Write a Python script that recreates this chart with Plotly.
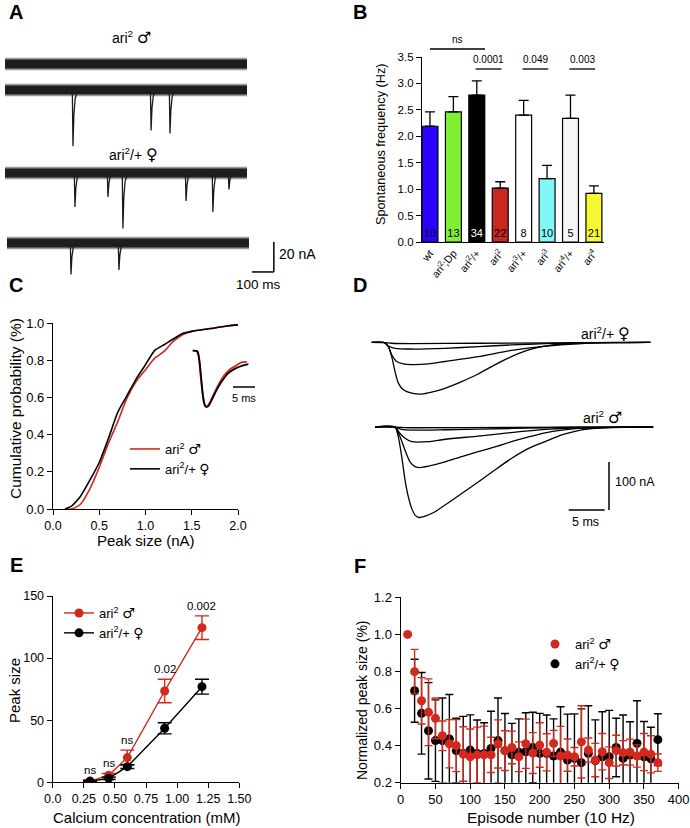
import plotly.graph_objects as go

W, H = 690, 828
FONT = "Arial, 'Liberation Sans', 'DejaVu Sans', sans-serif"
RED = "#d2281e"


def sym(ch, size):
    return '<span style="font-family:DejaVu Sans;font-size:%spx">%s</span>' % (size, ch)


def male(size=14):
    return "ari<sup>2</sup> " + sym("♂", size)


def female(size=14):
    return "ari<sup>2</sup>/+ " + sym("♀", size)


def fx(p):
    return p / W


def fy(p):
    return 1 - p / H


# ---------------- Panel A : spontaneous recordings ----------------
A_START = [0, 0, 0, 9]
A_END = [1100, 1100, 1100, 1109]
A_BASE = [-22.7, -40.0, -95.3, -142.0]
A_EV_T = [[], [309, 664, 750], [318, 468, 536, 823, 945, 1018], [300, 518]]
A_EV_AMP = [[], [37.5, 27, 29], [22.7, 16, 37, 18.7, 26, 11], [21, 18]]
A_SCALE_NA = 20
A_SCALE_MS = 100

# ---------------- Panel B : spontaneous frequency ----------------
B_CATS = ["wt", "ari<sup>2</sup>;Dp", "ari<sup>2</sup>/+", "ari<sup>2</sup>",
          "ari<sup>3</sup>/+", "ari<sup>3</sup>", "ari<sup>4</sup>/+", "ari<sup>4</sup>"]
B_MEAN = [2.19, 2.46, 2.78, 1.02, 2.40, 1.20, 2.34, 0.92]
B_SEM = [0.27, 0.29, 0.27, 0.12, 0.28, 0.25, 0.44, 0.14]
B_N = [10, 13, 34, 22, 8, 10, 5, 21]
B_COLORS = ["#2a00ff", "#80f032", "#000000", "#c8281e", "#ffffff", "#80f8f8", "#f6f6f6", "#f8f832"]
B_NCOLORS = ["black", "black", "white", "black", "black", "black", "black", "black"]
B_SIG_PAIRS = [(0, 2.35), (1.95, 3.05), (3.95, 5.05), (5.95, 7.05)]
B_SIG_TEXT = ["ns", "0.0001", "0.049", "0.003"]

# ---------------- Panel C : cumulative probability ----------------
C_X = [0.13, 0.2, 0.25, 0.3, 0.4, 0.5, 0.6, 0.7, 0.8, 0.9, 1.0, 1.1, 1.2, 1.3, 1.4, 1.5, 1.7, 1.9, 2.0]
C_RED = [0.0, 0.0, 0.01, 0.027, 0.11, 0.224, 0.354, 0.47, 0.596, 0.686, 0.749, 0.811, 0.847, 0.901, 0.937, 0.955, 0.97, 0.985, 0.99]
C_BLACK = [0.0, 0.015, 0.04, 0.07, 0.156, 0.25, 0.38, 0.52, 0.61, 0.70, 0.776, 0.853, 0.883, 0.914, 0.943, 0.955, 0.97, 0.985, 0.99]
C_INSET_T_RED = [0, 0.91, 1.36, 1.67, 2.05, 2.42, 2.80, 3.18, 3.79, 4.70, 5.83, 6.97, 8.48, 10.0, 11.1, 12.3]
C_INSET_RED = [0, -0.01, -0.11, -0.35, -0.64, -0.88, -0.99, -1.0, -0.94, -0.79, -0.61, -0.46, -0.33, -0.26, -0.21, -0.20]
C_INSET_T_BLACK = [0, 1.06, 1.52, 1.89, 2.27, 2.65, 3.03, 3.56, 4.32, 5.45, 6.59, 8.11, 9.62, 11.14, 12.65]
C_INSET_BLACK = [0, -0.01, -0.17, -0.46, -0.76, -0.94, -1.0, -0.99, -0.88, -0.70, -0.55, -0.40, -0.32, -0.27, -0.24]
C_SCALE_MS = 5

# ---------------- Panel D : evoked currents ----------------
D_TOP_T = [
    [0, 1.76, 2.31, 2.78, 3.24, 3.70, 4.40, 5.56, 6.94, 8.33, 10.19, 12.5, 14.8, 17.1, 19.4, 21.8, 24.1, 26.4, 28.7, 31.0, 38.7],
    [0, 1.76, 2.31, 2.78, 3.47, 4.40, 5.56, 7.87, 10.19, 14.8, 19.4, 24.1, 28.7, 33.3, 38.7],
    [0, 1.76, 2.31, 3.24, 5.56, 10.19, 14.8, 19.4, 24.1, 28.7, 38.7],
    [0, 1.76, 2.78, 5.56, 14.8, 38.7],
]
D_TOP_I = [
    [0, -0.7, -9, -30, -61, -85, -99, -106, -108, -104, -96, -82, -66, -47, -30, -16, -8, -3.5, -1.4, -0.7, 0],
    [0, -0.7, -9, -26, -40, -45, -46.5, -45, -40, -30, -17, -8, -3, -0.7, 0],
    [0, -0.7, -7.6, -12.5, -14, -12.5, -9, -5.5, -2.8, -0.7, 0],
    [0, -0.7, -2, -2.8, -2, 0],
]
D_BOT_T = [
    [0.46, 3.24, 3.70, 4.17, 4.63, 5.09, 5.56, 6.02, 6.57, 7.41, 8.80, 10.19, 12.5, 14.8, 17.1, 19.4, 21.8, 24.1, 26.4, 28.7, 31.0, 33.3, 39.1],
    [0.46, 3.24, 3.94, 4.63, 5.32, 6.02, 6.71, 7.87, 10.19, 12.5, 14.8, 17.1, 19.4, 21.8, 24.1, 26.4, 28.7, 39.1],
    [0.46, 3.24, 3.94, 4.63, 5.56, 7.87, 10.19, 14.8, 19.4, 24.1, 28.7, 39.1],
    [0.46, 3.24, 4.17, 5.56, 10.19, 19.4, 28.7, 39.1],
    [0.46, 3.24, 5.56, 19.4, 39.1],
]
D_BOT_I = [
    [0, -0.7, -21, -62, -111, -146, -170, -184, -189, -186, -177, -163, -139, -115, -90, -66, -45, -31, -17, -8, -3.5, -1.4, 0],
    [0, -0.7, -21, -49, -73, -83, -85, -82, -73, -62, -52, -42, -31, -21, -12.5, -7, -3.5, 0],
    [0, -0.7, -14, -24, -31, -31, -26, -19.4, -12, -5.6, -2, 0],
    [0, -0.7, -5.6, -7, -6.2, -3.5, -0.7, 0],
    [0, -0.7, -2, -1.4, 0],
]
D_GROUP_OFFSET = -176
D_SCALE_NA = 100
D_SCALE_MS = 5

# ---------------- Panel E : calcium dependence ----------------
E_CA = [0.3, 0.45, 0.6, 0.9, 1.2]
E_RED = [1.0, 5.6, 19.9, 73.5, 124.5]
E_RED_SEM = [1.0, 1.5, 6.0, 9.5, 9.5]
E_BLACK = [0.8, 3.2, 12.6, 43.5, 77.0]
E_BLACK_SEM = [0.5, 1.0, 1.5, 4.5, 6.0]
E_SIG = ["ns", "ns", "ns", "0.02", "0.002"]
E_XTICKS = [0, 0.25, 0.5, 0.75, 1.0, 1.25, 1.5]
E_XTICKTEXT = ["0.0", "0.25", "0.50", "0.75", "1.00", "1.25", "1.50"]

# ---------------- Panel F : 10 Hz train ----------------
F_EP_RED = list(range(10, 380, 10))
F_RED = [1.0, 0.799, 0.642, 0.58, 0.547, 0.453, 0.41, 0.40, 0.355, 0.34, 0.35, 0.35, 0.35, 0.409, 0.373,
         0.39, 0.34, 0.41, 0.36, 0.403, 0.364, 0.412, 0.344, 0.349, 0.34, 0.42, 0.376, 0.322, 0.367,
         0.308, 0.373, 0.362, 0.365, 0.344, 0.365, 0.353, 0.308]
F_RED_SEM = [0, 0.12, 0.125, 0.18, 0.11, 0.08, 0.13, 0.14, 0.147, 0.15, 0.15, 0.155, 0.095, 0.13, 0.107,
             0.088, 0.08, 0.133, 0.11, 0.12, 0.1, 0.07, 0.16, 0.087, 0.05, 0.195, 0.065, 0.09, 0.098,
             0.085, 0.083, 0.065, 0.07, 0.06, 0.1, 0.1, 0.047]
F_EP_BLACK = list(range(20, 380, 10))
F_BLACK = [0.696, 0.574, 0.48, 0.427, 0.427, 0.436, 0.373, 0.358, 0.376, 0.358, 0.358, 0.385, 0.427, 0.373,
           0.35, 0.364, 0.367, 0.39, 0.358, 0.358, 0.344, 0.364, 0.322, 0.331, 0.308, 0.358, 0.319, 0.34,
           0.34, 0.39, 0.331, 0.349, 0.412, 0.34, 0.329, 0.432]
F_BLACK_SEM = [0.17, 0.22, 0.26, 0.22, 0.23, 0.24, 0.175, 0.2, 0.19, 0.18, 0.165, 0.2, 0.23, 0.2, 0.17, 0.18,
               0.21, 0.19, 0.216, 0.207, 0.2, 0.246, 0.248, 0.24, 0.29, 0.257, 0.22, 0.243, 0.25, 0.158,
               0.234, 0.18, 0.23, 0.19, 0.17, 0.14]

# ================================================================
fig = go.Figure()

# ---- A traces ----
NOISE_IN = 3.0
NOISE_OUT = 4.2
EV_DT = [-3, 0, 4, 10, 22]
EV_FRAC = [0, 1, 0.45, 0.15, 0]
for s, e, b, evt, eva in zip(A_START, A_END, A_BASE, A_EV_T, A_EV_AMP):
    for n, col in ((NOISE_OUT, "#9a9a9a"), (NOISE_IN, "#1e1e1e")):
        fig.add_trace(go.Scatter(x=[s, e, e, s, s], y=[b + n, b + n, b - n, b - n, b + n],
                                 fill="toself", fillcolor=col, mode="lines", line=dict(width=0),
                                 xaxis="x", yaxis="y", showlegend=False, hoverinfo="skip"))
    xs, ys = [], []
    for t, a in zip(evt, eva):
        xs += [t + d for d in EV_DT] + [None]
        ys += [b - a * f for f in EV_FRAC] + [None]
    if xs:
        fig.add_trace(go.Scatter(x=xs, y=ys, mode="lines", line=dict(color="#1a1a1a", width=1.3),
                                 xaxis="x", yaxis="y", showlegend=False, hoverinfo="skip"))

# ---- B bars ----
fig.add_trace(go.Bar(x=B_CATS, y=B_MEAN, width=0.68, marker=dict(color=B_COLORS, line=dict(color="black", width=1.2)),
                     error_y=dict(type="data", array=B_SEM, arrayminus=[0] * len(B_SEM), symmetric=False,
                                  color="black", thickness=1.3, width=5),
                     text=[str(n) for n in B_N], textposition="inside", insidetextanchor="start",
                     constraintext="none", textangle=0,
                     insidetextfont=dict(family=FONT, size=11, color=B_NCOLORS),
                     xaxis="x2", yaxis="y2", showlegend=False, hoverinfo="skip"))

# ---- C cumulative ----
fig.add_trace(go.Scatter(x=C_X, y=C_RED, mode="lines", line=dict(color=RED, width=1.6, shape="spline", smoothing=0.6),
                         name=male(), legend="legend", xaxis="x3", yaxis="y3"))
fig.add_trace(go.Scatter(x=C_X, y=C_BLACK, mode="lines", line=dict(color="black", width=1.6, shape="spline", smoothing=0.6),
                         name=female(), legend="legend", xaxis="x3", yaxis="y3"))
fig.add_trace(go.Scatter(x=C_INSET_T_RED, y=C_INSET_RED, mode="lines",
                         line=dict(color=RED, width=1.8, shape="spline", smoothing=0.8),
                         xaxis="x4", yaxis="y4", showlegend=False, hoverinfo="skip"))
fig.add_trace(go.Scatter(x=C_INSET_T_BLACK, y=C_INSET_BLACK, mode="lines",
                         line=dict(color="black", width=1.8, shape="spline", smoothing=0.8),
                         xaxis="x4", yaxis="y4", showlegend=False, hoverinfo="skip"))

# ---- D evoked ----
for t, i in zip(D_TOP_T, D_TOP_I):
    fig.add_trace(go.Scatter(x=t, y=i, mode="lines", line=dict(color="black", width=1.3, shape="spline", smoothing=0.6),
                             xaxis="x5", yaxis="y5", showlegend=False, hoverinfo="skip"))
for t, i in zip(D_BOT_T, D_BOT_I):
    fig.add_trace(go.Scatter(x=t, y=[v + D_GROUP_OFFSET for v in i], mode="lines",
                             line=dict(color="black", width=1.3, shape="spline", smoothing=0.6),
                             xaxis="x5", yaxis="y5", showlegend=False, hoverinfo="skip"))

# ---- E ----
fig.add_trace(go.Scatter(x=E_CA, y=E_RED, mode="lines+markers", name=male(), legend="legend2",
                         line=dict(color=RED, width=1.4), marker=dict(color=RED, size=9),
                         error_y=dict(type="data", array=E_RED_SEM, color=RED, thickness=1.4, width=7),
                         xaxis="x6", yaxis="y6"))
fig.add_trace(go.Scatter(x=E_CA, y=E_BLACK, mode="lines+markers", name=female(), legend="legend2",
                         line=dict(color="black", width=1.4), marker=dict(color="black", size=9),
                         error_y=dict(type="data", array=E_BLACK_SEM, color="black", thickness=1.4, width=7),
                         xaxis="x6", yaxis="y6"))

# ---- F ----
fig.add_trace(go.Scatter(x=F_EP_BLACK, y=F_BLACK, mode="markers", name=female(), legend="legend3", legendrank=2,
                         marker=dict(color="black", size=9),
                         error_y=dict(type="data", array=F_BLACK_SEM, color="black", thickness=1.4, width=4),
                         xaxis="x7", yaxis="y7"))
fig.add_trace(go.Scatter(x=F_EP_RED, y=F_RED, mode="markers", name=male(), legend="legend3", legendrank=1,
                         marker=dict(color=RED, size=9),
                         error_y=dict(type="data", array=F_RED_SEM, color=RED, thickness=1.4, width=4),
                         xaxis="x7", yaxis="y7"))


# ================================================================
def ax(dom, rng, anchor, **kw):
    d = dict(domain=dom, range=rng, anchor=anchor, showline=True, linecolor="black", linewidth=1.3,
             ticks="outside", ticklen=5, tickwidth=1.3, tickcolor="black", showgrid=False, zeroline=False,
             automargin=False, tickfont=dict(family=FONT, size=13, color="black"), fixedrange=True)
    d.update(kw)
    return d


def hidden(dom, rng, anchor):
    return dict(domain=dom, range=rng, anchor=anchor, visible=False, fixedrange=True, automargin=False)


def xdom(a, b):
    return [fx(a), fx(b)]


def ydom(top, bottom):
    return [fy(bottom), fy(top)]


LEG = dict(xanchor="left", yanchor="top", bgcolor="rgba(0,0,0,0)",
           font=dict(family=FONT, size=13, color="black"), itemwidth=30, tracegroupgap=0)

layout = dict(
    template="none",
    width=W, height=H, margin=dict(l=0, r=0, t=0, b=0, pad=0), autosize=False,
    paper_bgcolor="white", plot_bgcolor="white",
    font=dict(family=FONT, color="black"),
    # A
    xaxis=hidden(xdom(5, 290), [0, (290 - 5) / 0.22], "y"),
    yaxis=hidden(ydom(30, 285), [-170, 0], "x"),
    # B
    xaxis2=ax(xdom(422, 604), [-0.34, 7.43], "y2", ticks="", tickangle=-50,
              tickfont=dict(family=FONT, size=10.5, color="black")),
    yaxis2=ax(ydom(57, 242), [0, 3.5], "x2", tickvals=[0, 0.5, 1, 1.5, 2, 2.5, 3, 3.5], tickformat=".1f",
              tickfont=dict(family=FONT, size=11.5, color="black")),
    # C
    xaxis3=ax(xdom(53, 238), [0, 2], "y3", tickvals=[0, 0.5, 1, 1.5, 2], tickformat=".1f",
              tickfont=dict(family=FONT, size=12.5, color="black")),
    yaxis3=ax(ydom(323, 509), [0, 1], "x3", tickvals=[0, 0.2, 0.4, 0.6, 0.8, 1.0], tickformat=".1f"),
    xaxis4=hidden(xdom(185, 260), [(185 - 192.7) / 4.4, (260 - 192.7) / 4.4], "y4"),
    yaxis4=hidden(ydom(340, 415), [-(415 - 350.7) / 56, (350.7 - 340) / 56], "x4"),
    # D
    xaxis5=hidden(xdom(365, 660), [(365 - 371.7) / 7.2, (660 - 371.7) / 7.2], "y5"),
    yaxis5=hidden(ydom(320, 525), [-(525 - 342.3) * 2.0833, (342.3 - 320) * 2.0833], "x5"),
    # E
    xaxis6=ax(xdom(52.7, 239.3), [0, 1.5], "y6", tickvals=E_XTICKS, ticktext=E_XTICKTEXT,
              tickfont=dict(family=FONT, size=12.5, color="black")),
    yaxis6=ax(ydom(596, 782.3), [0, 150], "x6", tickvals=[0, 50, 100, 150],
              tickfont=dict(family=FONT, size=12.5, color="black")),
    # F
    xaxis7=ax(xdom(400.7, 678.7), [0, 400], "y7", tickvals=[0, 50, 100, 150, 200, 250, 300, 350, 400]),
    yaxis7=ax(ydom(597.3, 782.7), [0.2, 1.2], "x7", tickvals=[0.2, 0.4, 0.6, 0.8, 1.0, 1.2], tickformat=".1f"),
    legend=dict(x=fx(125), y=fy(434), **LEG),
    legend2=dict(x=fx(59), y=fy(598), **LEG),
    legend3=dict(x=fx(535), y=fy(629), **LEG),
    showlegend=True,
)
fig.update_layout(**layout)

ann = []
shapes = []


def text(x, y, s, size=12, xanchor="center", yanchor="middle", angle=0, bold=False, **kw):
    ann.append(dict(x=fx(x), y=fy(y), xref="paper", yref="paper", text=("<b>%s</b>" % s) if bold else s,
                    showarrow=False, xanchor=xanchor, yanchor=yanchor, textangle=angle,
                    font=dict(family=FONT, size=size, color="black"), **kw))


# panel letters
for letter, x, y in [("A", 7, 12), ("B", 351, 12), ("C", 7, 285), ("D", 351, 285), ("E", 8, 565), ("F", 352, 566)]:
    text(x, y, letter, size=20, xanchor="left", bold=True)

# A labels and scale bar
text(131, 38, male(16), size=14)
text(133, 155, female(16), size=14)
A_T0 = 1222
A_Y0 = -161.3
shapes.append(dict(type="line", xref="x", yref="y", x0=A_T0, x1=A_T0, y0=A_Y0, y1=A_Y0 + A_SCALE_NA,
                   line=dict(color="black", width=1.5)))
shapes.append(dict(type="line", xref="x", yref="y", x0=A_T0 - A_SCALE_MS, x1=A_T0, y0=A_Y0, y1=A_Y0,
                   line=dict(color="black", width=1.5)))
text(277, 254, "%d nA" % A_SCALE_NA, size=14, xanchor="left")
text(258, 284, "%d ms" % A_SCALE_MS, size=13.5)

# B significance
for (a, b), s in zip(B_SIG_PAIRS, B_SIG_TEXT):
    y_line = 49 if s == "ns" else 69
    shapes.append(dict(type="line", xref="x2", yref="paper", x0=a, x1=b, y0=fy(y_line), y1=fy(y_line),
                       line=dict(color="black", width=1.3)))
    ann.append(dict(x=(a + b) / 2, y=fy(y_line - 2), xref="x2", yref="paper", text=s, showarrow=False,
                    xanchor="center", yanchor="bottom", font=dict(family=FONT, size=10, color="black")))
text(381, 144, "Spontaneous frequency (Hz)", size=12.7, angle=-90)

# C titles, inset scale
text(15, 409, "Cumulative probability (%)", size=15.5, angle=-90)
text(146, 540, "Peak size (nA)", size=15)
C_BAR_END = (255 - 192.7) / 4.4
C_BAR_Y = -(387 - 350.7) / 56
shapes.append(dict(type="line", xref="x4", yref="y4", x0=C_BAR_END - C_SCALE_MS, x1=C_BAR_END, y0=C_BAR_Y, y1=C_BAR_Y,
                   line=dict(color="black", width=1.5)))
text(244, 398, "%d ms" % C_SCALE_MS, size=11)

# D labels and scale bars
text(605, 333, female(16), size=14)
text(602, 417, male(16), size=14)
D_T0 = (609 - 371.7) / 7.2
D_Y0 = -(510 - 342.3) * 2.0833
shapes.append(dict(type="line", xref="x5", yref="y5", x0=D_T0, x1=D_T0, y0=D_Y0, y1=D_Y0 + D_SCALE_NA,
                   line=dict(color="black", width=1.5)))
shapes.append(dict(type="line", xref="x5", yref="y5", x0=D_T0 - D_SCALE_MS - 0.6, x1=D_T0 - 0.6, y0=D_Y0, y1=D_Y0,
                   line=dict(color="black", width=1.5)))
text(613, 482, "%d nA" % D_SCALE_NA, size=12.5, xanchor="left")
text(585, 522, "%d ms" % D_SCALE_MS, size=12.5)

# E titles and significance
text(14, 691, "Peak size", size=15, angle=-90)
text(147, 817, "Calcium concentration (mM)", size=15)
for x, yv, e, s in zip(E_CA, E_RED, E_RED_SEM, E_SIG):
    ann.append(dict(x=x, y=yv + e, xref="x6", yref="y6", text=s, showarrow=False, xanchor="center",
                    yanchor="bottom", yshift=2, font=dict(family=FONT, size=11.5, color="black")))

# F titles
text(362, 700, "Normalized peak size (%)", size=14, angle=-90)
text(551, 817, "Episode number (10 Hz)", size=15.5)

fig.update_layout(annotations=ann, shapes=shapes)
# remove the browser's default 8px page margin so the figure sits at the window origin
fig.write_html("out.html", config={"displayModeBar": False},
               post_script="document.body.style.margin='0px';")
